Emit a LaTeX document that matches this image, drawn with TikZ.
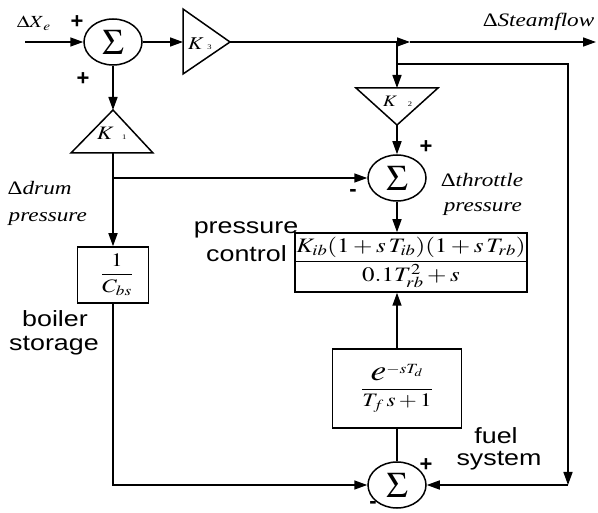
\documentclass[tikz,border=0pt]{standalone}
\usepackage{mathptmx}
\usepackage[no-math]{fontspec}
\setmainfont{Liberation Serif}
\newfontfamily\sansf{Liberation Sans}
\usepackage{graphicx}
\usetikzlibrary{shapes.geometric,arrows.meta}
\newcommand{\hs}[1]{\scalebox{1.22}[1]{#1}}
\newcommand{\fs}[1]{\fontsize{#1}{#1}\selectfont}
\begin{document}
\begin{tikzpicture}[x=1pt,y=-1pt,
  line width=1.5pt,
  arr/.style={-{Triangle[length=13pt,width=9pt]}},
  sumnode/.style={draw,ellipse,minimum width=58pt,minimum height=46pt,inner sep=0pt},
  blk/.style={draw,rectangle,inner sep=0pt},
  sanslab/.style={font={\sansf\fs{22}},inner sep=0pt,anchor=base},
  itlab/.style={font={\fs{19}},inner sep=0pt,anchor=base west},
  sign/.style={font={\sansf\bfseries\fs{22}},inner sep=0pt},
  klab/.style={inner sep=0pt,anchor=base west}
]
\useasboundingbox (0,0) rectangle (598,513);

% summing junctions
\node[sumnode] (s1) at (113,42) {\fs{36}$\Sigma$};
\node[sumnode] (s2) at (397,178) {\fs{36}$\Sigma$};
\node[sumnode] (s3) at (397,485) {\fs{36}$\Sigma$};

% gain triangles
\coordinate (k3a) at (183,9);
\coordinate (k3b) at (183,74);
\coordinate (k3t) at (230,42);
\coordinate (k3in) at (183,42);
\draw (k3a) -- (k3t) -- (k3b) -- cycle;
\node[klab] (k3l) at (187,50) {\hs{\fs{18}$K$\hspace{3pt}{\fs{7}3}}};

\coordinate (k2a) at (356,88);
\coordinate (k2b) at (438,88);
\coordinate (k2t) at (397,125);
\coordinate (k2top) at (397,88);
\draw (k2a) -- (k2b) -- (k2t) -- cycle;
\node[klab] (k2l) at (382,107) {\hs{\fs{16}$K$\hspace{9pt}{\fs{7}2}}};

\coordinate (k1ap) at (113,110);
\coordinate (k1bl) at (71,153);
\coordinate (k1br) at (153,153);
\coordinate (k1bm) at (113,153);
\draw (k1ap) -- (k1br) -- (k1bl) -- cycle;
\node[klab] (k1l) at (96,140) {\hs{\fs{19}$K$\hspace{7pt}{\fs{7}1}}};

% blocks
\node[blk,minimum width=71pt,minimum height=56pt] (cbs) at (113,275)
  {\hspace{8pt}\hs{\fs{19}$\displaystyle\frac{1}{C_{bs}}$}};
\node[blk,minimum width=230pt,minimum height=59pt] (pc) at (411,262.5)
  {\hs{\fs{20.5}$\displaystyle\frac{K_{ib}(1+s\,T_{ib})(1+s\,T_{rb})\rule[-3pt]{0pt}{3pt}}{\rule{0pt}{16pt}0.1T_{rb}^{2}+s}$}};
\node[blk,minimum width=129pt,minimum height=79pt] (fs) at (397,388.5)
  {\hs{\fs{19}$\displaystyle\frac{\mbox{\fs{29}$e$}^{-sT_{d}}}{T_{f}\,s+1}$}\hspace{6pt}};

% connectors
\coordinate (in) at (25,42);
\coordinate (jt) at (410,42);
\coordinate (j1) at (397,42);
\coordinate (out) at (596,42);
\coordinate (j2) at (397,64);
\coordinate (c1) at (568,64);
\coordinate (c2) at (568,485);
\coordinate (j3) at (113,178);
\coordinate (c3) at (113,485);

\draw[arr] (in) -- (s1);
\draw[arr] (s1) -- (k3in);
\draw[arr] (k3t) -- (jt);
\draw[arr] (jt) -- (out);
\draw[arr] (j1) -- (k2top);
\draw[arr] (j2) -- (c1) -- (c2);
\draw[arr] (c2) -- (s3);
\draw[arr] (k2t) -- (s2);
\draw[arr] (s1) -- (k1ap);
\draw[arr] (k1bm) -- (cbs);
\draw[arr] (j3) -- (s2);
\draw[arr] (cbs) -- (c3) -- (s3);
\draw[arr] (s2) -- (s2 |- pc.north);
\draw[arr] (fs.north) -- (fs.north |- pc.south);
\draw (fs) -- (s3);

% signs
\node[sign] (p1) at (77,22) {+};
\node[sign] (p2) at (83,79) {+};
\node[sign] (p3) at (426,147) {+};
\node[sign] (m1) at (353,193) {-};
\node[sign] (p4) at (426,465) {+};
\node[sign] (m2) at (373,505) {-};

% italic labels
\node[itlab] (lx) at (16,28) {\hs{\fs{17}$\Delta X_{\,e}$}};
\node[itlab] (ld1) at (7,195) {\hs{Δ\textit{drum}}};
\node[itlab] (ld2) at (8,222) {\hs{\textit{pressure}}};
\node[itlab] (lt1) at (440,187) {\hs{Δ\textit{throttle}}};
\node[itlab] (lt2) at (443,212) {\hs{\textit{pressure}}};
\node[itlab] (ls) at (482,27) {\hs{Δ\textit{Steamflow}}};

% sans labels
\node[sanslab] (lb1) at (55,327) {\hs{boiler}};
\node[sanslab] (lb2) at (54,351) {\hs{storage}};
\node[sanslab] (lp1) at (246,234) {\hs{pressure}};
\node[sanslab] (lp2) at (246.5,262) {\hs{control}};
\node[sanslab] (lf1) at (496,444) {\hs{fuel}};
\node[sanslab] (lf2) at (499,465) {\hs{system}};
\end{tikzpicture}
\end{document}
